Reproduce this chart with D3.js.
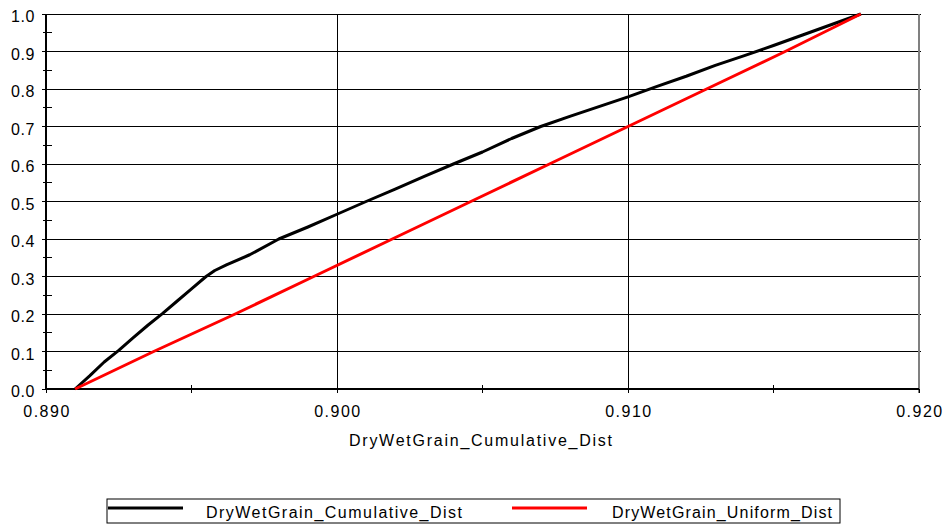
<!DOCTYPE html>
<html>
<head>
<meta charset="utf-8">
<script src="https://cdn.jsdelivr.net/npm/d3@7"></script>
<style>
  body { margin: 0; background: #fff; }
  svg { display: block; font-family: "Liberation Sans", Arial, sans-serif; }
  .grid line { shape-rendering: crispEdges; }
</style>
</head>
<body>
<svg id="chart"></svg>
<script>
(() => {
  const cumX = [0.8910, 0.8915, 0.8920, 0.8925, 0.8930, 0.8935, 0.8940, 0.8945, 0.8950, 0.8955,
                0.8958, 0.8962, 0.8970, 0.8980, 0.8990, 0.9000, 0.9010, 0.9020, 0.9030, 0.9040,
                0.9050, 0.9060, 0.9070, 0.9080, 0.9090, 0.9100, 0.9110, 0.9120, 0.9130, 0.9140,
                0.9150, 0.9160, 0.9170, 0.9180];
  const cumY = [0.000, 0.035, 0.072, 0.103, 0.137, 0.170, 0.201, 0.234, 0.267, 0.300,
                0.316, 0.331, 0.358, 0.400, 0.432, 0.466, 0.500, 0.533, 0.567, 0.600,
                0.632, 0.668, 0.700, 0.727, 0.753, 0.779, 0.807, 0.834, 0.863, 0.889,
                0.916, 0.944, 0.972, 1.000];
  const uniX = [0.8910, 0.8937, 0.8965, 0.8992, 0.9019, 0.9046, 0.9073, 0.9100, 0.9127, 0.9154, 0.9180];
  const uniY = [0.0, 0.1, 0.2, 0.3, 0.4, 0.5, 0.6, 0.7, 0.8, 0.9, 1.0];

  const xTicks = [0.890, 0.900, 0.910, 0.920];
  const xMinor = [0.895, 0.905, 0.915];
  const yTicks = [0.0, 0.1, 0.2, 0.3, 0.4, 0.5, 0.6, 0.7, 0.8, 0.9, 1.0];
  const yMinor = [0.05, 0.15, 0.25, 0.35, 0.45, 0.55, 0.65, 0.75, 0.85, 0.95];

  const xTitle = "DryWetGrain_Cumulative_Dist";
  const seriesNames = ["DryWetGrain_Cumulative_Dist", "DryWetGrain_Uniform_Dist"];
  const seriesColors = ["#000000", "#ff0000"];

  const width = 947, height = 527;
  const margin = { top: 14, right: 28, bottom: 138, left: 46 };
  const innerW = width - margin.left - margin.right;
  const innerH = height - margin.top - margin.bottom;

  const svgRoot = d3.select("#chart").attr("width", width).attr("height", height);
  const svg = svgRoot.append("g").attr("transform", `translate(${margin.left},${margin.top})`);

  const x = d3.scaleLinear().domain([0.890, 0.920]).range([0, innerW]);
  const y = d3.scaleLinear().domain([0, 1]).range([innerH, 0]);

  // horizontal gridlines
  svg.append("g").attr("class", "grid").selectAll("line")
    .data(yTicks.filter(d => d > 0))
    .join("line")
    .attr("x1", -4).attr("x2", innerW + 2)
    .attr("y1", d => y(d)).attr("y2", d => y(d))
    .attr("stroke", "#000").attr("stroke-width", 1);

  // vertical gridlines
  svg.append("g").attr("class", "grid").selectAll("line")
    .data(xTicks.filter(d => d > 0.890 && d < 0.920))
    .join("line")
    .attr("x1", d => x(d)).attr("x2", d => x(d))
    .attr("y1", 0).attr("y2", innerH + 4)
    .attr("stroke", "#000").attr("stroke-width", 1);

  // right border
  svg.append("line")
    .attr("x1", innerW).attr("x2", innerW)
    .attr("y1", 0).attr("y2", innerH + 4)
    .attr("stroke", "#808080").attr("stroke-width", 2);

  // left axis
  const yAxis = svg.append("g").attr("class", "grid");
  yAxis.append("line")
    .attr("x1", 0).attr("x2", 0).attr("y1", 0).attr("y2", innerH)
    .attr("stroke", "#000").attr("stroke-width", 2);
  yAxis.selectAll(".maj")
    .data(yTicks)
    .join("line").attr("class", "maj")
    .attr("x1", -4).attr("x2", 0)
    .attr("y1", d => y(d)).attr("y2", d => y(d))
    .attr("stroke", "#000").attr("stroke-width", 1);
  yAxis.selectAll(".min")
    .data(yMinor)
    .join("line").attr("class", "min")
    .attr("x1", -3).attr("x2", 6)
    .attr("y1", d => y(d)).attr("y2", d => y(d))
    .attr("stroke", "#000").attr("stroke-width", 1);
  yAxis.selectAll("text")
    .data(yTicks)
    .join("text")
    .attr("x", -11).attr("y", d => y(d) + 8)
    .attr("text-anchor", "end")
    .style("font-size", "16px")
    .style("letter-spacing", "0.6px")
    .text(d3.format(".1f"));

  // bottom axis
  const xAxis = svg.append("g").attr("class", "grid").attr("transform", `translate(0,${innerH})`);
  xAxis.append("line")
    .attr("x1", 0).attr("x2", innerW).attr("y1", 0).attr("y2", 0)
    .attr("stroke", "#000").attr("stroke-width", 2);
  xAxis.selectAll(".maj")
    .data(xTicks)
    .join("line").attr("class", "maj")
    .attr("x1", d => x(d)).attr("x2", d => x(d))
    .attr("y1", 0).attr("y2", 4)
    .attr("stroke", "#000").attr("stroke-width", 1);
  xAxis.selectAll(".min")
    .data(xMinor)
    .join("line").attr("class", "min")
    .attr("x1", d => x(d)).attr("x2", d => x(d))
    .attr("y1", -4).attr("y2", 4)
    .attr("stroke", "#000").attr("stroke-width", 1);
  xAxis.selectAll("text")
    .data(xTicks)
    .join("text")
    .attr("x", d => x(d) + 1).attr("y", 28)
    .attr("text-anchor", "middle")
    .style("font-size", "16px")
    .style("letter-spacing", "1.5px")
    .text(d3.format(".3f"));

  svg.append("text")
    .attr("x", 303).attr("y", innerH + 57)
    .style("font-size", "16px")
    .attr("textLength", 263)
    .attr("lengthAdjust", "spacing")
    .text(xTitle);

  // series
  const line = d3.line().x(d => x(d[0])).y(d => y(d[1]));
  const series = [d3.zip(cumX, cumY), d3.zip(uniX, uniY)];
  svg.selectAll(".series")
    .data(series)
    .join("path").attr("class", "series")
    .attr("d", line)
    .attr("fill", "none")
    .attr("stroke", (d, i) => seriesColors[i])
    .attr("stroke-width", 3)
    .attr("stroke-linejoin", "round");

  // legend
  const legend = svgRoot.append("g").attr("transform", "translate(107,499)");
  legend.append("rect")
    .attr("x", 0).attr("y", 0).attr("width", 733).attr("height", 24)
    .attr("fill", "none").attr("stroke", "#000").attr("stroke-width", 1);
  const item = legend.selectAll(".item")
    .data(seriesNames)
    .join("g").attr("class", "item")
    .attr("transform", (d, i) => `translate(${i === 0 ? 0 : 404},0)`);
  item.append("line")
    .attr("x1", 1).attr("x2", 76).attr("y1", 9).attr("y2", 9)
    .attr("stroke", (d, i) => seriesColors[i]).attr("stroke-width", 3);
  item.append("text")
    .attr("x", (d, i) => i === 0 ? 99 : 101).attr("y", 19)
    .style("font-size", "16px")
    .attr("textLength", (d, i) => i === 0 ? 256 : 220)
    .attr("lengthAdjust", "spacing")
    .text(d => d);
})();
</script>
</body>
</html>
